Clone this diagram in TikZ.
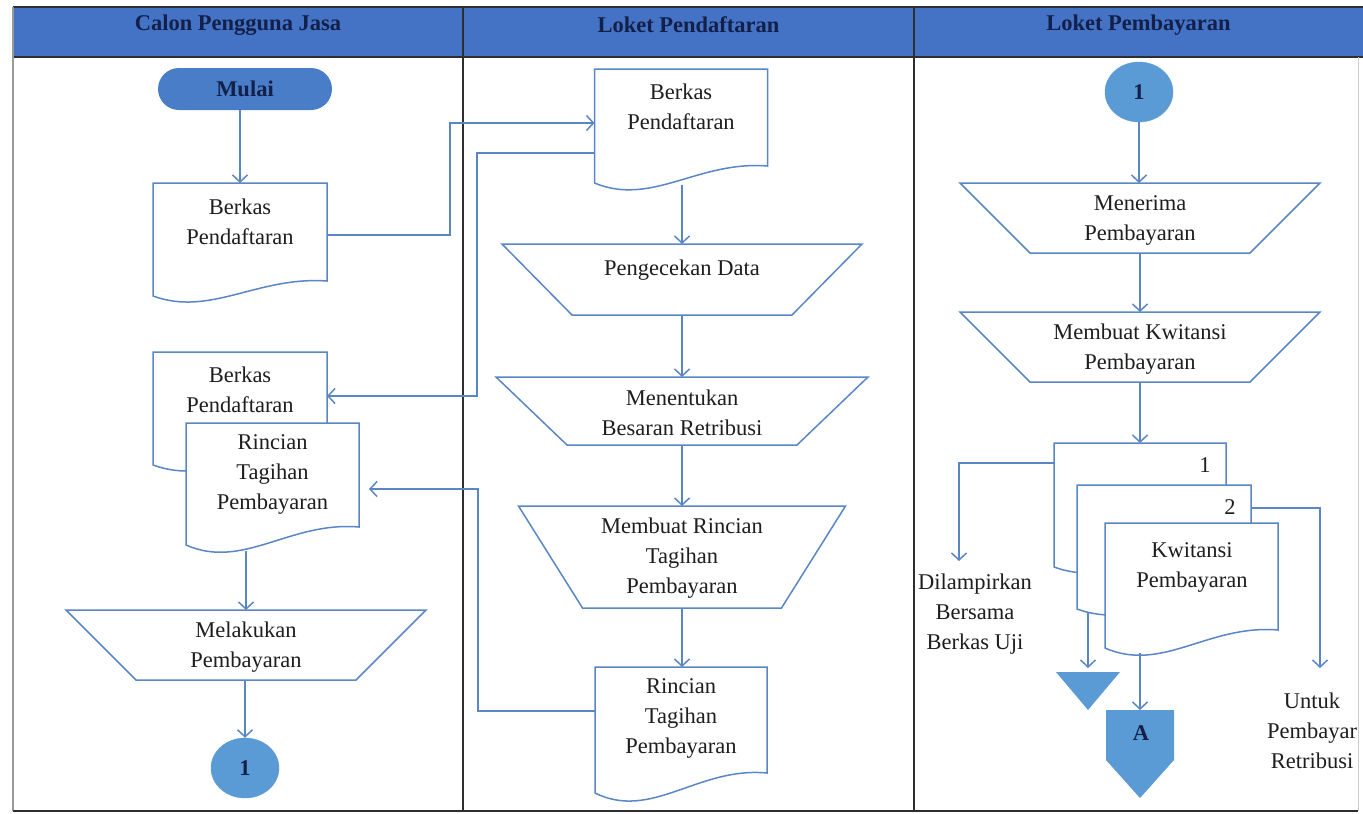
\documentclass[tikz,border=0pt]{standalone}
\usepackage{fontspec}
\setmainfont{Liberation Serif}
\usetikzlibrary{arrows.meta,calc,shapes.geometric}
\definecolor{hdrblue}{HTML}{4472C4}
\definecolor{hdrtext}{HTML}{13204A}
\definecolor{linec}{HTML}{5A86C6}
\definecolor{mulaic}{HTML}{4A7DC8}
\definecolor{circc}{HTML}{5B9BD5}
\definecolor{txtc}{HTML}{1E1E1E}
\definecolor{gridc}{HTML}{2E2E2E}
\newcommand{\trapshape}[2]{\draw[shp,fill=white] (#1.north west) -- (#1.north east) -- ($(#1.south east)+(-#2,0)$) -- ($(#1.south west)+(#2,0)$) -- cycle;}
\newcommand{\docshape}[2]{\draw[shp,fill=white] (#1.south west) -- (#1.north west) -- (#1.north east) -- ($(#1.south east)+(0,-#2)$) .. controls ($(#1.south west)!0.6!(#1.south east)+(0,-1.33*#2)$) and ($(#1.south west)!0.33!(#1.south east)+(0,1.4*#2)$) .. (#1.south west) -- cycle;}
\tikzset{
  box/.style={draw=none, inner sep=0pt, outer sep=0pt, rectangle},
  shp/.style={draw=linec, line width=1.5pt, line join=miter},
  conn/.style={draw=linec, line width=1.5pt, -{Straight Barb[length=7pt,width=15pt,line width=1.5pt]}},
  txt/.style={align=center, font=\fontsize{22.5}{30}\selectfont, text=txtc, inner sep=0pt},
  btxt/.style={align=center, font=\bfseries\fontsize{22.5}{30}\selectfont, text=hdrtext, inner sep=0pt},
  gridline/.style={draw=gridc, line width=1.3pt},
}
\begin{document}
\begin{tikzpicture}[x=1pt,y=-1pt]
\useasboundingbox (0,0) rectangle (1363,814);
\fill[white] (0,0) rectangle (1363,814);
% header
\node[box, minimum width=450pt, minimum height=50pt, fill=hdrblue] (h1) at (238,32) {};
\node[box, minimum width=451pt, minimum height=50pt, fill=hdrblue] (h2) at (688.5,32) {};
\node[box, minimum width=449pt, minimum height=50pt, fill=hdrblue] (h3) at (1138.5,32) {};
\node[btxt] (t1) at (238,25) {Calon Pengguna Jasa};
\node[btxt] (t2) at (688.5,25) {Loket Pendaftaran};
\node[btxt] (t3) at (1138.5,25) {Loket Pembayaran};
\draw[gridline] (h1.north west) -- (h3.north east);
\draw[gridline] (h1.south west) -- (h3.south east);
\draw[draw=gray!80, line width=2pt] (h1.north west) -- (13,811);
\draw[gridline] (h1.north east) -- (463,811);
\draw[gridline] (h2.north east) -- (914,811);
\draw[gridline] (13,811) -- (1358,811);
\draw[draw=gray!40, line width=1pt] (1358,57) -- (1358,811);

% column 1
\node[box, minimum width=174pt, minimum height=42pt, rounded corners=21pt, fill=mulaic, btxt] (mulai) at (245,89) {Mulai};
\node[box, minimum width=174pt, minimum height=113pt] (doc1) at (240,239.5) {};
\docshape{doc1}{15}
\node[txt] (doc1t) at (240,222) {Berkas\\Pendaftaran};
\node[box, minimum width=174pt, minimum height=113pt] (doc2b) at (240,408.5) {};
\docshape{doc2b}{15}
\node[txt] (doc2bt) at (240,390) {Berkas\\Pendaftaran};
\node[box, minimum width=173pt, minimum height=122pt] (doc2f) at (272.5,484) {};
\docshape{doc2f}{18}
\node[txt] (doc2ft) at (272.5,474) {Rincian\\Tagihan\\Pembayaran};
\node[box, minimum width=360pt, minimum height=70pt] (mel) at (246,645) {};
\trapshape{mel}{70}
\node[txt] (melt) at (246,647) {Melakukan\\Pembayaran};
\node[ellipse, fill=circc, draw=circc, minimum width=68pt, minimum height=60pt, inner sep=0pt, btxt] (c1) at (245,768) {1};

% column 2
\node[box, minimum width=173pt, minimum height=114pt] (doc3) at (681,126) {};
\docshape{doc3}{17}
\node[txt] (doc3t) at (681,107) {Berkas\\Pendaftaran};
\node[box, minimum width=360pt, minimum height=71pt] (cek) at (682,279.5) {};
\trapshape{cek}{70}
\node[txt] (cekt) at (682,270) {Pengecekan Data};
\node[box, minimum width=372pt, minimum height=68pt] (tentu) at (682,411) {};
\trapshape{tentu}{71}
\node[txt] (tentut) at (682,413) {Menentukan\\Besaran Retribusi};
\node[box, minimum width=327pt, minimum height=102pt] (rinc) at (682,557) {};
\trapshape{rinc}{64}
\node[txt] (rinct) at (682,558) {Membuat Rincian\\Tagihan\\Pembayaran};
\node[box, minimum width=172pt, minimum height=126pt] (doc4) at (681,730) {};
\docshape{doc4}{20}
\node[txt] (doc4t) at (681,718) {Rincian\\Tagihan\\Pembayaran};

% column 3
\node[ellipse, fill=circc, draw=circc, minimum width=68pt, minimum height=60pt, inner sep=0pt, btxt] (c2) at (1139,92) {1};
\node[box, minimum width=360pt, minimum height=70pt] (terima) at (1140,218) {};
\trapshape{terima}{70}
\node[txt] (terimat) at (1140,220) {Menerima\\Pembayaran};
\node[box, minimum width=360pt, minimum height=70pt] (kwit) at (1140,347) {};
\trapshape{kwit}{70}
\node[txt] (kwitt) at (1140,349) {Membuat Kwitansi\\Pembayaran};
\node[box, minimum width=172pt, minimum height=124pt] (kd1) at (1140,505) {};
\docshape{kd1}{15}
\node[txt] (kd1n) at (1205,465) {1};
\node[box, minimum width=174pt, minimum height=124pt] (kd2) at (1164,547) {};
\docshape{kd2}{15}
\node[txt] (kd2n) at (1230,507) {2};
\node[box, minimum width=173pt, minimum height=125pt] (kd3) at (1191.5,585.5) {};
\docshape{kd3}{18}
\node[txt] (kd3t) at (1192,567) {Kwitansi\\Pembayaran};
\node[box, minimum width=64pt, minimum height=38pt] (tri) at (1088,691) {};
\fill[circc] (tri.north west) -- (tri.north east) -- (tri.south) -- cycle;
\node[box, minimum width=68pt, minimum height=88pt] (offp) at (1140,754) {};
\fill[circc] (offp.north west) -- (offp.north east) -- ($(offp.south east)+(0,-38)$) -- (offp.south) -- ($(offp.south west)+(0,-38)$) -- cycle;
\node[btxt] (offpt) at (1141,733) {A};
\node[txt] (lamp) at (975,614) {Dilampirkan\\Bersama\\Berkas Uji};
\node[txt] (untuk) at (1312,731) {Untuk\\Pembayar\\Retribusi};
\coordinate (lampc) at (959,561);
\coordinate (untukc) at (1320,668);

% connectors
\draw[conn] (doc1.north |- mulai.south) -- (doc1.north);
\draw[conn] ($(doc1.north east)+(0,52)$) -| (450,123) -- ($(doc3.north west)+(0,54)$);
\draw[conn] ($(doc3.north west)+(0,84)$) -| (477,396) -- ($(doc2b.north east)+(0,44)$);
\draw[conn] ($(cek.north |- doc3.south)+(0,2)$) -- (cek.north);
\draw[conn] (cek.south) -- (tentu.north);
\draw[conn] (tentu.south) -- (rinc.north);
\draw[conn] (rinc.south) -- (rinc.south |- doc4.north);
\draw[conn, shorten >=10pt] ($(doc4.north west)+(0,44)$) -| (478,489) -- ($(doc2f.north east)+(0,66)$);
\draw[conn] ($(mel.north |- doc2f.south)+(0,6)$) -- (mel.north);
\draw[conn] (c1.north |- mel.south) -- (c1.north);
\draw[conn] (c2.south) -- (c2.south |- terima.north);
\draw[conn] (terima.south) -- (kwit.north);
\draw[conn] (kwit.south) -- (kd1.north);
\draw[conn] ($(kd1.north west)+(0,20)$) -| (lampc);
\draw[conn] ($(kd2.north east)+(0,23)$) -| (untukc);
\draw[conn, shorten >=4pt] ($(kd2.south west)+(11,3)$) -- (tri.north);
\draw[conn] ($(offp.north |- kd3.south)+(0,5)$) -- (offp.north);
\end{tikzpicture}
\end{document}
